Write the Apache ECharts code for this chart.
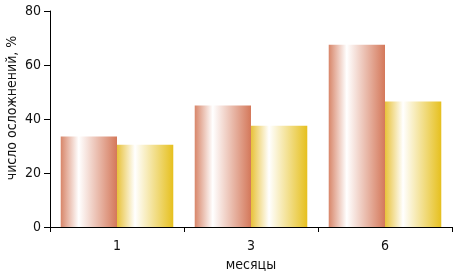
<!DOCTYPE html>
<html><head><meta charset="utf-8">
<script src="https://cdn.jsdelivr.net/npm/echarts@6/dist/echarts.min.js"></script>
<style>html,body{margin:0;padding:0;background:#fff}#c{width:453px;height:272px}</style>
</head><body><div id="c"></div>
<script>
const categories = ['1', '3', '6'];
const seriesA = [33.5, 45, 67.5];
const seriesB = [30.5, 37.5, 46.5];
const yTicks = [0, 20, 40, 60, 80];

const FONT = "'Liberation Sans Narrow','DejaVu Sans Condensed','Liberation Sans',Arial,sans-serif";
function grad(edgeL, edgeR) {
  return new echarts.graphic.LinearGradient(0, 0, 1, 0, [
    {offset: 0, color: edgeL},
    {offset: 0.32, color: '#ffffff'},
    {offset: 1, color: edgeR}
  ]);
}
const chart = echarts.init(document.getElementById('c'));
chart.setOption({
  animation: false,
  grid: {left: 50, right: 1, top: 11, bottom: 45, containLabel: false, outerBoundsMode: 'none'},
  xAxis: {
    type: 'category', data: categories,
    name: 'месяцы', nameLocation: 'middle', nameGap: 31, nameMoveOverlap: false,
    nameTextStyle: {fontFamily: FONT, fontSize: 14, color: '#111'},
    axisLine: {lineStyle: {color: '#000', width: 1}},
    axisTick: {show: true, length: 5, lineStyle: {color: '#000'}},
    axisLabel: {fontFamily: FONT, fontSize: 14, color: '#111', margin: 12}
  },
  yAxis: {
    type: 'value', min: yTicks[0], max: yTicks[yTicks.length - 1], interval: 20,
    name: 'число осложнений, %', nameLocation: 'middle', nameGap: 31, nameMoveOverlap: false,
    nameTextStyle: {fontFamily: FONT, fontSize: 14, color: '#111', padding: [0, 0, 0, 22]},
    axisLine: {show: true, lineStyle: {color: '#000', width: 1}},
    axisTick: {show: true, length: 6, lineStyle: {color: '#000'}},
    axisLabel: {fontFamily: FONT, fontSize: 14, color: '#111', margin: 9},
    splitLine: {show: false}
  },
  series: [
    {type: 'bar', data: seriesA, barGap: '0%', barCategoryGap: '16%',
     itemStyle: {color: grad('#d8866a', '#d4785a')}},
    {type: 'bar', data: seriesB,
     itemStyle: {color: grad('#e8c23a', '#e6c01e')}}
  ]
});
</script></body></html>
